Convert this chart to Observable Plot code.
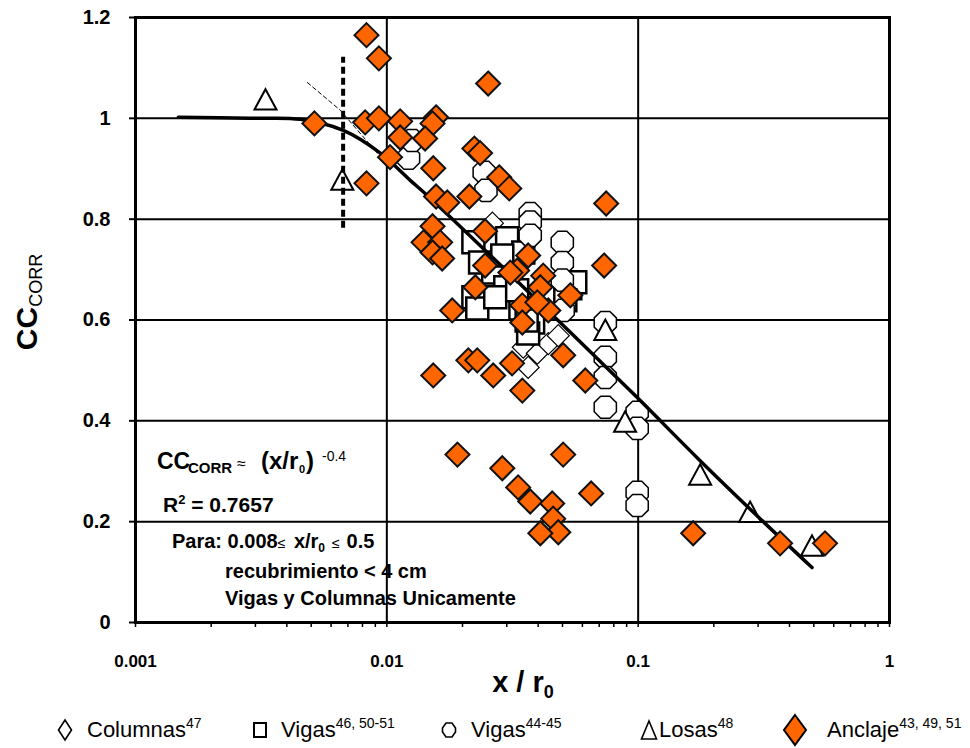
<!DOCTYPE html>
<html><head><meta charset="utf-8">
<script src="https://cdn.jsdelivr.net/npm/d3@7"></script>
<script src="https://cdn.jsdelivr.net/npm/@observablehq/plot@0.6"></script>
<style>
body{margin:0;background:#fff;}
#chart{position:relative;width:970px;height:748px;overflow:hidden;background:#fff;}
#chart > svg{position:absolute;left:0;top:0;}
.legend{position:absolute;left:0;top:712px;width:970px;height:36px;font-family:"Liberation Sans",Arial,sans-serif;font-size:22px;color:#000;}
.icon{position:absolute;top:0;height:36px;display:flex;align-items:center;}
.icon svg{display:block;}
.lab{position:absolute;top:0;height:36px;line-height:36px;white-space:nowrap;}
.lab sup{font-size:14px;vertical-align:9px;line-height:0;}
</style></head><body>
<div id="chart"></div>
<script>
// ---------- data ----------
const anclajeX = [0.0083,0.0093,0.0253,0.00515,0.0082,0.0093,0.0113,0.0157,0.0152,0.0113,
  0.0142,0.0103,0.0153,0.0083,0.0223,0.0235,0.0213,0.028,0.0307,0.0746,
  0.0157,0.0174,0.0152,0.0246,0.014,0.0163,0.0152,0.0166,0.0732,0.0246,
  0.0225,0.0182,0.0365,0.033,0.0419,0.0408,0.0537,0.0346,0.0439,0.0346,
  0.0397,0.031,0.0503,0.0616,0.0211,0.0229,0.0153,0.0265,0.0315,0.0346,
  0.0191,0.0503,0.0288,0.0333,0.0372,0.0455,0.0459,0.0481,0.0408,0.065,
  0.1655,0.367,0.554];
const anclajeY = [1.165,1.119,1.069,0.990,0.992,1.000,0.994,1.002,0.990,0.962,
  0.960,0.923,0.901,0.871,0.940,0.931,0.845,0.883,0.861,0.831,
  0.845,0.833,0.786,0.776,0.754,0.754,0.734,0.722,0.708,0.708,
  0.665,0.619,0.728,0.698,0.688,0.665,0.649,0.629,0.619,0.595,
  0.635,0.694,0.530,0.480,0.520,0.520,0.490,0.490,0.514,0.460,
  0.333,0.333,0.306,0.268,0.240,0.236,0.206,0.179,0.177,0.256,
  0.177,0.157,0.157];
const vigasSqX = [0.0221,0.0301,0.0349,0.0235,0.0265,0.0296,0.0221,0.0229,0.027,0.034,0.0382,0.0365,0.036,0.0537,0.0562,0.0513,0.033,0.0288];
const vigasSqY = [0.754,0.762,0.734,0.714,0.694,0.665,0.645,0.623,0.645,0.623,0.595,0.573,0.599,0.663,0.675,0.639,0.659,0.728];
const vigasCiX = [0.0122,0.0126,0.0244,0.0248,0.0372,0.0372,0.0372,0.0499,0.0499,0.0499,0.0503,0.074,0.074,0.074,0.074,0.0991,0.0991,0.0991,0.0991];
const vigasCiY = [0.921,0.956,0.893,0.857,0.811,0.794,0.768,0.754,0.714,0.679,0.619,0.595,0.526,0.486,0.427,0.417,0.385,0.258,0.232];
const columnasX = [0.0263,0.0349,0.0397,0.0439,0.0481,0.0365];
const columnasY = [0.792,0.546,0.534,0.553,0.569,0.506];
const losasX = [0.00329,0.00665,0.1764,0.2788,0.4917,0.074,0.0887];
const losasY = [1.036,0.877,0.292,0.218,0.151,0.579,0.397];
const fitX = [0.00148,0.00286,0.00453,0.00671,0.00942,0.01239,0.01449,0.034,0.0955,0.1764,0.3055,0.4917];
const fitY = [1.002,1.000,0.998,0.976,0.931,0.877,0.847,0.671,0.454,0.321,0.206,0.109];
const dashX = [0.00483,0.00653,0.00916];
const dashY = [1.071,1.016,0.931];
const limitX = [0.0067];
const limitY = [0.782,1.121];
const yTicks = [0,0.2,0.4,0.6,0.8,1,1.2];
const yGrid = [0.2,0.4,0.6,0.8,1];
const xGrid = [0.01,0.1];
const xDecades = [0.001,0.01,0.1,1];
const xTickLabels = ["0.001","0.01","0.1","1"];
const legendLabels = ["Columnas","Vigas","Vigas","Losas","Anclaje"];
const legendSups = ["47","46, 50-51","44-45","48","43, 49, 51"];

// ---------- helpers ----------
const pts = (xs, ys) => xs.map((x, i) => ({x, y: ys[i]}));
const rad = s => Math.sqrt(s / Math.PI);
const diamondSym = {draw(c, s){const r = rad(s); c.moveTo(0,-r); c.lineTo(r,0); c.lineTo(0,r); c.lineTo(-r,0); c.closePath();}};
const squareSym = {draw(c, s){const r = rad(s); c.rect(-r,-r,2*r,2*r);}};
const triSym = {draw(c, s){const r = rad(s); c.moveTo(0,-r); c.lineTo(r,0.85*r); c.lineTo(-r,0.85*r); c.closePath();}};
const octSym = {draw(c, s){const r = rad(s); for(let i=0;i<8;i++){const a = Math.PI/8 + i*Math.PI/4; const px = r*Math.cos(a), py = r*Math.sin(a); i ? c.lineTo(px,py) : c.moveTo(px,py);} c.closePath();}};

const xMinor = [];
for (const d of xDecades.slice(0,3)) for (let m = 1; m <= 9; m++) xMinor.push(m * d);
xMinor.push(1);
const labelOf = new Map(xDecades.map((d, i) => [d, xTickLabels[i]]));

const FONT = "Liberation Sans, Arial, sans-serif";

const plot = Plot.plot({
  width: 970, height: 705,
  marginLeft: 135, marginRight: 81, marginTop: 17, marginBottom: 83,
  x: {type: "log", domain: [0.001, 1]},
  y: {domain: [0, 1.2]},
  style: {fontFamily: FONT, background: "white", overflow: "visible", color: "black"},
  marks: [
    Plot.ruleY(yGrid, {strokeWidth: 2, stroke: "black"}),
    Plot.ruleX(xGrid, {strokeWidth: 2, stroke: "black"}),
    Plot.axisY({ticks: yTicks, tickSize: 6, tickPadding: 19, strokeWidth: 2, fontSize: 20, fontWeight: "bold", tickFormat: d => String(d), label: null}),
    Plot.axisX({ticks: xMinor, tickSize: 5, tickPadding: 27, strokeWidth: 1.5, fontSize: 17, fontWeight: "bold", tickFormat: d => labelOf.get(d) ?? "", label: null}),
    Plot.dot(pts(columnasX, columnasY), {x: "x", y: "y", symbol: diamondSym, r: 11, fill: "white", stroke: "black", strokeWidth: 1.2}),
    Plot.dot(pts(vigasSqX, vigasSqY), {x: "x", y: "y", symbol: squareSym, r: 11, fill: "white", stroke: "black", strokeWidth: 2.5}),
    Plot.dot(pts(vigasCiX, vigasCiY), {x: "x", y: "y", symbol: octSym, r: 12, fill: "white", stroke: "black", strokeWidth: 1.5}),
    Plot.dot(pts(losasX, losasY), {x: "x", y: "y", symbol: triSym, r: 11, fill: "white", stroke: "black", strokeWidth: 2}),
    Plot.line(pts(fitX, fitY), {x: "x", y: "y", curve: "catmull-rom", stroke: "black", strokeWidth: 3.5}),
    Plot.line(pts(dashX, dashY), {x: "x", y: "y", stroke: "black", strokeWidth: 1, strokeDasharray: "4,3"}),
    Plot.ruleX(limitX, {y1: limitY[0], y2: limitY[1], stroke: "black", strokeWidth: 4, strokeDasharray: "7,4"}),
    Plot.dot(pts(anclajeX, anclajeY), {x: "x", y: "y", symbol: diamondSym, r: 12, fill: "#FF6600", stroke: "#111", strokeWidth: 2}),
    Plot.frame({stroke: "black", strokeWidth: 3})
  ]
});
document.getElementById("chart").appendChild(plot);

// ---------- rich text annotations ----------
const svg = d3.select(plot);
const g = svg.append("g").attr("font-family", FONT).attr("fill", "black");
function rich(x, y, parts, anchor = "start", extra = {}) {
  const t = g.append("text").attr("x", x).attr("y", y).attr("text-anchor", anchor);
  for (const k in extra) t.attr(k, extra[k]);
  for (const p of parts) {
    const s = t.append("tspan").text(p.t).attr("font-size", p.s).attr("font-weight", p.w || "bold");
    if (p.x != null) s.attr("x", p.x);
    if (p.y != null) s.attr("y", p.y);
    if (p.dx) s.attr("dx", p.dx);
    if (p.dy) s.attr("dy", p.dy);
  }
  return t;
}
rich(157, 469, [
  {t:"CC", s:23}, {t:"CORR", s:15, x:188, y:473}, {t:"≈", s:16, w:"normal", x:237, y:469},
  {t:"(x/r", s:24, x:261, y:469}, {t:"0", s:11, x:299, y:473}, {t:")", s:24, x:306, y:469},
  {t:"-0.4", s:14, w:"normal", x:322, y:461}]);
rich(163, 512, [{t:"R", s:21}, {t:"2", s:13, dy:-8}, {t:" = 0.7657", s:21, dy:8}]);
rich(172, 548, [
  {t:"Para: 0.008", s:20}, {t:"≤", s:14, w:"normal"}, {t:" x/r", s:20, dx:3},
  {t:"0", s:12, dy:4}, {t:" ≤ ", s:14, w:"normal", dy:-4, dx:3}, {t:"0.5", s:20, dx:3}]);
rich(225, 578, [{t:"recubrimiento < 4 cm", s:20}]);
rich(225, 605, [{t:"Vigas y Columnas Unicamente", s:20}]);
// axis titles
rich(0, 0, [{t:"CC", s:30}, {t:"CORR", s:18, w:"normal", dy:5}], "middle", {transform: "translate(37,302) rotate(-90)"});
rich(523, 692, [{t:"x / r", s:29}, {t:"0", s:18, dy:6}], "middle");

// ---------- legend ----------
const legendIcons = [
  '<svg width="16" height="24"><path d="M8,2 L14.5,12 L8,22 L1.5,12Z" fill="white" stroke="black" stroke-width="1.6"/></svg>',
  '<svg width="16" height="20"><rect x="2" y="3" width="12" height="14" fill="white" stroke="black" stroke-width="2"/></svg>',
  '<svg width="16" height="20"><path d="M5,3 L11,3 L14.5,8 L14.5,12 L11,17 L5,17 L1.5,12 L1.5,8Z" fill="white" stroke="black" stroke-width="1.6"/></svg>',
  '<svg width="18" height="22"><path d="M9,2 L16.5,20 L1.5,20Z" fill="white" stroke="black" stroke-width="1.6"/></svg>',
  '<svg width="26" height="34"><path d="M13,2 L24,17 L13,32 L2,17Z" fill="#FF6600" stroke="black" stroke-width="2"/></svg>'
];
const iconLeft = [57, 252, 441, 640, 782];
const textLeft = [87, 281, 471, 659, 827];
const leg = document.createElement("div");
leg.className = "legend";
legendLabels.forEach((lab, i) => {
  const ic = document.createElement("div");
  ic.className = "icon"; ic.style.left = iconLeft[i] + "px"; ic.innerHTML = legendIcons[i];
  const tx = document.createElement("div");
  tx.className = "lab"; tx.style.left = textLeft[i] + "px";
  tx.innerHTML = lab + "<sup>" + legendSups[i] + "</sup>";
  leg.appendChild(ic); leg.appendChild(tx);
});
document.getElementById("chart").appendChild(leg);
</script>
</body></html>
